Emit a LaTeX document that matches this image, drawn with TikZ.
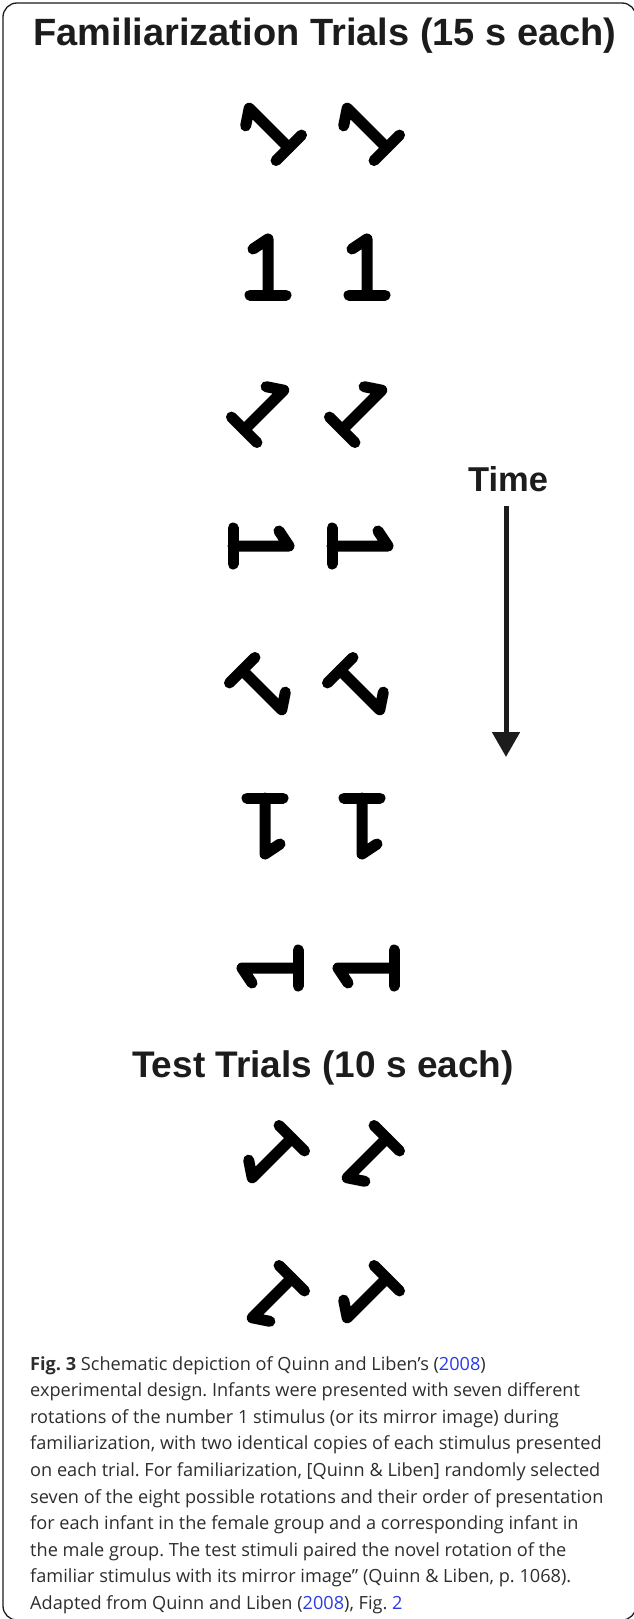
\documentclass[tikz,border=0pt]{standalone}
\usepackage{fontspec}
\setmainfont{Open Sans}
\newfontfamily\headfont{Liberation Sans}
\usetikzlibrary{arrows.meta}
\definecolor{linkblue}{RGB}{40,60,230}
\definecolor{ink}{RGB}{28,28,28}
\definecolor{captink}{RGB}{45,45,45}
\frenchspacing
\begin{document}
\begin{tikzpicture}[x=1pt,y=-1pt,
  glyph/.style={line width=11pt, line cap=round, line join=round, draw=black},
  one/.pic={\draw[glyph] (-15,-18) -- (0,-28) -- (0,28); \draw[glyph] (-18,28) -- (18,28);},
  head/.style={font=\headfont\bfseries\fontsize{38}{40}\selectfont, text=ink, inner sep=0pt, anchor=base},
  caption/.style={font=\fontsize{18.15}{22}\selectfont, text=captink, inner sep=0pt, anchor=base west},
  timearrow/.style={line width=5pt, draw=ink, -{Triangle[width=27pt,length=25pt]}},
  frame/.style={draw=ink, line width=1.3pt, rounded corners=14pt}
]
\useasboundingbox (0,0) rectangle (633,1619);
\draw[frame] (3,3) rectangle (636,1620);

% titles
\node[head] (title) at (325,46) {Familiarization Trials (15 s each)};
\node[head, font=\headfont\bfseries\fontsize{37}{40}\selectfont] (testtitle) at (323,1077) {Test Trials (10 s each)};
\node[head, font=\headfont\bfseries\fontsize{34.5}{38}\selectfont] (timelbl) at (508,491) {Time};

% time arrow
\coordinate (tstart) at (506,506);
\coordinate (tend) at (506,757);
\draw[timearrow] (tstart) -- (tend);

% familiarization rows
\pic[rotate=45] at (269,128) {one};
\pic[rotate=45] at (367,128) {one};
\pic at (268,267) {one};
\pic at (367,267) {one};
\pic[rotate=-45] at (264,410) {one};
\pic[rotate=-45] at (362,410) {one};
\pic[rotate=-90] at (261,546) {one};
\pic[rotate=-90] at (360,546) {one};
\pic[rotate=-135] at (262,690) {one};
\pic[rotate=-135] at (360,690) {one};
\pic[rotate=180] at (265,826) {one};
\pic[rotate=180] at (362,826) {one};
\pic[rotate=90] at (270,968) {one};
\pic[rotate=90] at (366,968) {one};

% test rows
\pic[rotate=135, xscale=-1] at (272,1158) {one};
\pic[rotate=135] at (367,1158) {one};
\pic[rotate=135] at (272,1298) {one};
\pic[rotate=135, xscale=-1] at (367,1298) {one};

% caption
\node[caption] (cap1) at (30,1370) {\textbf{Fig. 3} Schematic depiction of Quinn and Liben’s ({\color{linkblue}2008})};
\node[caption] (cap2) at (30,1396.6) {experimental design. Infants were presented with seven different};
\node[caption] (cap3) at (30,1423.2) {rotations of the number 1 stimulus (or its mirror image) during};
\node[caption] (cap4) at (30,1449.8) {familiarization, with two identical copies of each stimulus presented};
\node[caption] (cap5) at (30,1476.4) {on each trial. For familiarization, [Quinn \& Liben] randomly selected};
\node[caption] (cap6) at (30,1503) {seven of the eight possible rotations and their order of presentation};
\node[caption] (cap7) at (30,1529.6) {for each infant in the female group and a corresponding infant in};
\node[caption] (cap8) at (30,1556.2) {the male group. The test stimuli paired the novel rotation of the};
\node[caption] (cap9) at (30,1582.8) {familiar stimulus with its mirror image” (Quinn \& Liben, p. 1068).};
\node[caption] (cap10) at (30,1609.4) {Adapted from Quinn and Liben ({\color{linkblue}2008}), Fig. {\color{linkblue}2}};
\end{tikzpicture}
\end{document}
